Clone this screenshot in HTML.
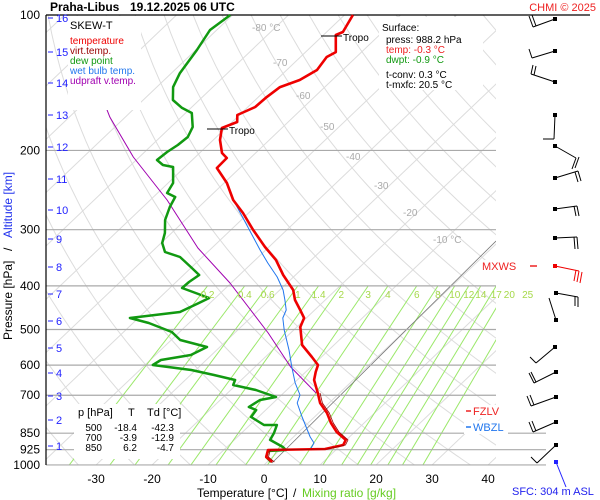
<!DOCTYPE html>
<html><head><meta charset="utf-8"><style>
html,body{margin:0;padding:0;background:#fff;}
svg{display:block;font-family:"Liberation Sans",sans-serif;}
</style></head><body>
<svg id="c" width="600" height="500" viewBox="0 0 600 500" xmlns="http://www.w3.org/2000/svg">
<defs><clipPath id="pc"><rect x="46" y="15" width="450" height="450"/></clipPath></defs>
<rect x="0" y="0" width="600" height="500" fill="#fff"/>
<g id="grid" clip-path="url(#pc)"></g>
<g id="plines"></g>
<g id="series"></g>
<g id="labels"></g>
<g id="barbs"></g>
</svg>
<script>
// ---- data ----
const pressureTicks = [100,200,300,400,500,600,700,850,925,1000];
const tempTicks = [-30,-20,-10,0,10,20,30,40];
const altKm = [16,15,14,13,12,11,10,9,8,7,6,5,4,3,2,1];
const altY = [18,52,83,115,147,179,210,239,267,294,321,348,373,396,420,446];
const mixRatios = [0.2,0.4,0.6,1,1.4,2,3,4,6,8,10,12,14,17,20,25];
const tempP = [100,109.1,110.8,120.9,124,132.5,139.5,144.6,152.1,160.1,166.8,172.9,178.3,189.6,202.6,207.9,218.8,236.3,257.7,275.5,300.5,327.8,350.4,378.3,408.5,430,452.6,471.5,493.7,541.4,575.6,599.7,621.5,647.5,692,728.4,766.6,807,845,880,903,921.7,926.5,960.3,985.2];
const tempT = [-68.5,-67.1,-67.8,-64.6,-65.3,-64.6,-65.8,-68,-68.5,-68.7,-70.4,-69.1,-70.7,-68.8,-66,-64.2,-64.1,-59.5,-55.2,-51,-46,-40.7,-36.3,-32.2,-27.6,-25.4,-22.6,-20.4,-19.4,-15.7,-11.7,-9.1,-8.2,-7,-3.9,-1.6,1.5,4.1,6.8,9.9,10.4,7.9,-2.1,-1.1,0.9];
const dewP = [100,108,119.6,134.6,144.6,154.5,160.9,165.1,177.4,186.7,194.5,201.6,210,215.5,217.7,236.3,248.7,253.8,267.1,285.5,305.2,321.2,336.4,345.1,363.2,378.3,392.1,404.4,425.6,436.6,457.2,471.5,483.7,506.5,527.7,547,569.8,584.5,599.7,615.2,631.2,647.5,664.4,681.6,706.4,717.3,743.4,755,782.6,815.3,815.3,849.4,880,912.3,926.5,931.2,960.3,985.2];
const dewT = [-90.4,-91.2,-89.8,-88.5,-87.1,-84.7,-81.6,-78.9,-76.1,-75.1,-75.4,-76,-76.3,-74.3,-72.1,-69.1,-68.3,-66.1,-65.2,-63.6,-61.2,-59.8,-57.6,-54,-50.2,-47.2,-47.7,-47.8,-41.1,-42,-43.7,-51.5,-47.2,-41.4,-38.4,-32.3,-33.7,-38.1,-38.6,-30.8,-25.8,-21.1,-20.5,-15.5,-10.6,-12.9,-13.6,-11.7,-11.3,-7.5,-5.2,-4.2,-3.6,0,1.1,-1.9,-1.1,0.7];
const wbP = [261.7,332.9,355.8,382.2,408.5,430,452.6,471.5,501.3,555.3,605.9,657.6,699.1,728.4,782.6,866.8,893.9,926.5,926.5,960.3];
const wbT = [-54.3,-41,-37.2,-32.9,-29.4,-27.2,-25.1,-24.2,-21.7,-17.1,-13.4,-9.8,-6.7,-5.7,-2.2,3,4.8,5.4,-2.1,-1];
const updP = [102.6,168.5,206.8,257.7,329.5,394.1,509.1,605.9,692];
const updT = [-117.7,-92.8,-81.1,-67,-52.5,-40.2,-24,-13.6,-4.2];

// ---- axes ----
const NS='http://www.w3.org/2000/svg';
function py(p){return 15+195.4*Math.log(p/100);}
function tx(T,p){return 264+5.6*T+1.05*(465-py(p));}
function mk(tag,attrs,parent){const e=document.createElementNS(NS,tag);for(const k in attrs)e.setAttribute(k,attrs[k]);parent.appendChild(e);return e;}
const grid=document.getElementById('grid'),pl=document.getElementById('plines'),se=document.getElementById('series'),lb=document.getElementById('labels'),bb=document.getElementById('barbs');

for(let T=-130;T<=40;T+=10){
  const l=mk('line',{x1:tx(T,1000),y1:py(1000),x2:tx(T,100),y2:py(100),stroke:'#dcdcdc','stroke-width':1},grid);
  
  
}
for(let th=230;th<=500;th+=10){
  let d='';
  for(let p=1000;p>=100;p-=10){const T=th*Math.pow(p/1000,0.2857)-273.15;d+=(d?'L':'M')+tx(T,p).toFixed(1)+','+py(p).toFixed(1);}
  const a=mk('path',{d:d,fill:'none',stroke:'#dcdcdc','stroke-width':1},grid);
  
  
}
function tdw(w,p){const e=w*p/(622+w);const l=Math.log(e/6.112);return 243.5*l/(17.67-l);}
mixRatios.forEach(w=>{
  const m=mk('line',{x1:tx(tdw(w,1000),1000),y1:py(1000),x2:tx(tdw(w,400),400),y2:py(400),stroke:'#9be86a','stroke-width':1},grid);
  
  
  const t=mk('text',{x:tx(tdw(w,400),400),y:298,'font-size':10,fill:'#a6d94a','text-anchor':'middle'},lb);
  t.textContent=w;
  
  
});
mk('line',{x1:272,y1:463,x2:496,y2:241,stroke:'#777','stroke-width':0.8},grid);

pressureTicks.forEach(p=>{
  const y=py(p);
  const x2=p>=850?546:(p===100?590:496);
  const l=mk('line',{x1:46,y1:y,x2:x2,y2:y,stroke:p===100?'#000':'#aaa','stroke-width':1.2},pl);
  
  
  const t=mk('text',{x:40,y:y+4,'font-size':12,'text-anchor':'end',fill:'#000'},lb);
  t.textContent=p;
  
  
});
mk('line',{x1:46,y1:15,x2:46,y2:465,stroke:'#000','stroke-width':1.2},pl);
tempTicks.forEach(T=>{
  const t=mk('text',{x:tx(T,1000),y:483,'font-size':12,'text-anchor':'middle',fill:'#000'},lb);
  t.textContent=T;
  
  
});
altKm.forEach((k,i)=>{
  mk('line',{x1:48,y1:altY[i],x2:53,y2:altY[i],stroke:'#22f','stroke-width':1},lb);
  const t=mk('text',{x:56,y:altY[i]+4,'font-size':11,fill:'#22f'},lb);
  t.textContent=k;
  
  
});
[['-80 °C',252,31],['-70',273,66],['-60',296,99],['-50',320,130],['-40',346,160],['-30',374,189],['-20',403,216],['-10 °C',433,243]].forEach(a=>{
  const t=mk('text',{x:a[1],y:a[2],'font-size':10,fill:'#aaa'},lb);t.textContent=a[0];
  
  
});

function line(P,T,color,w,name){
  let d='';P.forEach((p,i)=>{d+=(i?'L':'M')+tx(T[i],p).toFixed(1)+','+py(p).toFixed(1);});
  const e=mk('path',{d:d,fill:'none',stroke:color,'stroke-width':w,'stroke-linejoin':'round'},se);
  
  
}
line(updP,updT,'#a000b0',1,'updraft-line');
line(wbP,wbT,'#2277ee',1,'wet-bulb-line');
line(dewP,dewT,'#119911',2.5,'dew-point-line');
line(tempP,tempT,'#ee0000',2.6,'temperature-line');
line(tempP.slice(34),tempT.slice(34).map(v=>v+0.4),'#990000',0.8,'virtual-temperature-line');
</script>
<script>
const L=document.getElementById('labels'),B=document.getElementById('barbs');
const N='http://www.w3.org/2000/svg';
function el(tag,a,p){const e=document.createElementNS(N,tag);for(const k in a)e.setAttribute(k,a[k]);p.appendChild(e);return e;}
function txt(s,x,y,size,fill,extra){const t=el('text',Object.assign({x:x,y:y,'font-size':size,fill:fill},extra||{}),L);t.textContent=s;return t;}
let t=txt('Praha-Libus',50,11,12,'#000',{'font-weight':'bold'});

t=txt('19.12.2025 06 UTC',130,11,12,'#000',{'font-weight':'bold'});

t=txt('CHMI © 2025',596,11,11,'#ee2222',{'text-anchor':'end'});

let r=el('rect',{x:68,y:16,width:73,height:94,fill:'#fff'},L);

t=txt('SKEW-T',70,29,11,'#000');
[['temperature','#ee0000',44],['virt.temp.','#990000',54],['dew point','#119911',64],['wet bulb temp.','#2277ee',74],['udpraft v.temp.','#a000b0',84]].forEach(a=>{
  const e=txt(a[0],70,a[2],10,a[1]);
  
  
});
r=el('rect',{x:379,y:17,width:104,height:73,fill:'#fff'},L);

[['Surface:',382,31,'#000'],['press: 988.2 hPa',386,43,'#000'],['temp: -0.3 °C',386,53,'#ee2222'],['dwpt: -0.9 °C',386,63,'#119911'],['t-conv: 0.3 °C',386,78,'#000'],['t-mxfc: 20.5 °C',386,88,'#000']].forEach(a=>{
  const e=txt(a[0],a[1],a[2],10,a[3]);
  
  
});
el('line',{x1:321,y1:36,x2:342,y2:36,stroke:'#000','stroke-width':1},L);
t=txt('Tropo',343,41,10,'#000');
el('line',{x1:207,y1:129,x2:228,y2:129,stroke:'#000','stroke-width':1},L);
t=txt('Tropo',229,134,10,'#000');
r=el('rect',{x:74,y:404,width:106,height:55,fill:'#fff'},L);

[['p [hPa]',78,416,'start'],['T',128,416,'start'],['Td [°C]',147,416,'start'],
 ['500',102,431,'end'],['-18.4',137,431,'end'],['-42.3',174,431,'end'],
 ['700',102,441,'end'],['-3.9',137,441,'end'],['-12.9',174,441,'end'],
 ['850',102,451,'end'],['6.2',137,451,'end'],['-4.7',174,451,'end']].forEach(a=>{
  const e=txt(a[0],a[1],a[2],a[2]===416?11:10,'#000',{'text-anchor':a[3]});
  
  
});
[['MXWS',482,270,'#ee2222',530,537],['FZLV',473,415,'#ee2222',466,471],['WBZL',473,431,'#2277ee',466,471]].forEach(a=>{
  el('rect',{x:Math.min(a[1],a[4])-2,y:a[2]-10,width:44,height:13,fill:'#fff'},L);
  el('line',{x1:a[4],y1:a[2]-4,x2:a[5],y2:a[2]-4,stroke:a[3],'stroke-width':1.5},L);
  const e=txt(a[0],a[1],a[2],11,a[3]);
  
  
});
t=txt('Temperature [°C]',197,497,12,'#000');

t=txt('/',293,497,12,'#000');

t=txt('Mixing ratio [g/kg]',302,497,12,'#66cc22');

const g=el('g',{transform:'translate(12,340) rotate(-90)'},L);
let a1=el('text',{x:0,y:0,'font-size':12,fill:'#000'},g);a1.textContent='Pressure [hPa]';

let a3=el('text',{x:89,y:0,'font-size':12,fill:'#000'},g);a3.textContent='/';

let a2=el('text',{x:102,y:0,'font-size':12,fill:'#2233ee'},g);a2.textContent='Altitude [km]';

const barbs=[
 ['#000',[[555,19,533,27],[533,27,529,16],[536,26,532,15]]],
 ['#000',[[555,51,532,58],[532,58,529,49]]],
 ['#000',[[555,82,531,74],[531,74,533,65],[534,75,536,66]]],
 ['#000',[[555,115,554,139],[554,139,543,139]]],
 ['#000',[[555,146,576,158],[576,158,572,169],[579,157,575,168]]],
 ['#000',[[555,178,578,171],[578,171,581,181],[575,172,578,182]]],
 ['#000',[[555,209,577,206],[577,206,579,216],[574,206,576,216]]],
 ['#000',[[555,238,577,237],[577,237,578,249],[574,237,575,249]]],
 ['#e00',[[555,266,579,271],[579,271,577,282],[582,272,580,283],[576,270,574,281]]],
 ['#000',[[556,293,578,297],[578,297,578,307],[575,296,575,306]]],
 ['#000',[[556,320,549,298]]],
 ['#000',[[555,347,536,363],[536,363,530,357]]],
 ['#000',[[556,372,534,383],[534,383,529,373],[536,382,531,372]]],
 ['#000',[[556,397,531,406],[531,406,527,396],[534,405,530,395]]],
 ['#000',[[556,422,533,432],[533,432,529,422],[536,431,532,421]]],
 ['#000',[[556,445,537,463],[537,463,531,457]]]
];
barbs.forEach(b=>{
  const grp=el('g',{},B);
  
  
  b[1].forEach(s=>el('line',{x1:s[0],y1:s[1],x2:s[2],y2:s[3],stroke:b[0],'stroke-width':1},grp));
  el('rect',{x:b[1][0][0]-2,y:b[1][0][1]-2,width:4,height:4,fill:b[0]},grp);
});
el('rect',{x:554,y:460,width:4,height:4,fill:'#22f'},B);
el('line',{x1:556,y1:462,x2:566,y2:487,stroke:'#22f','stroke-width':1},B);
t=txt('SFC: 304 m ASL',512,495,11,'#2222ee');
</script>
</body></html>
